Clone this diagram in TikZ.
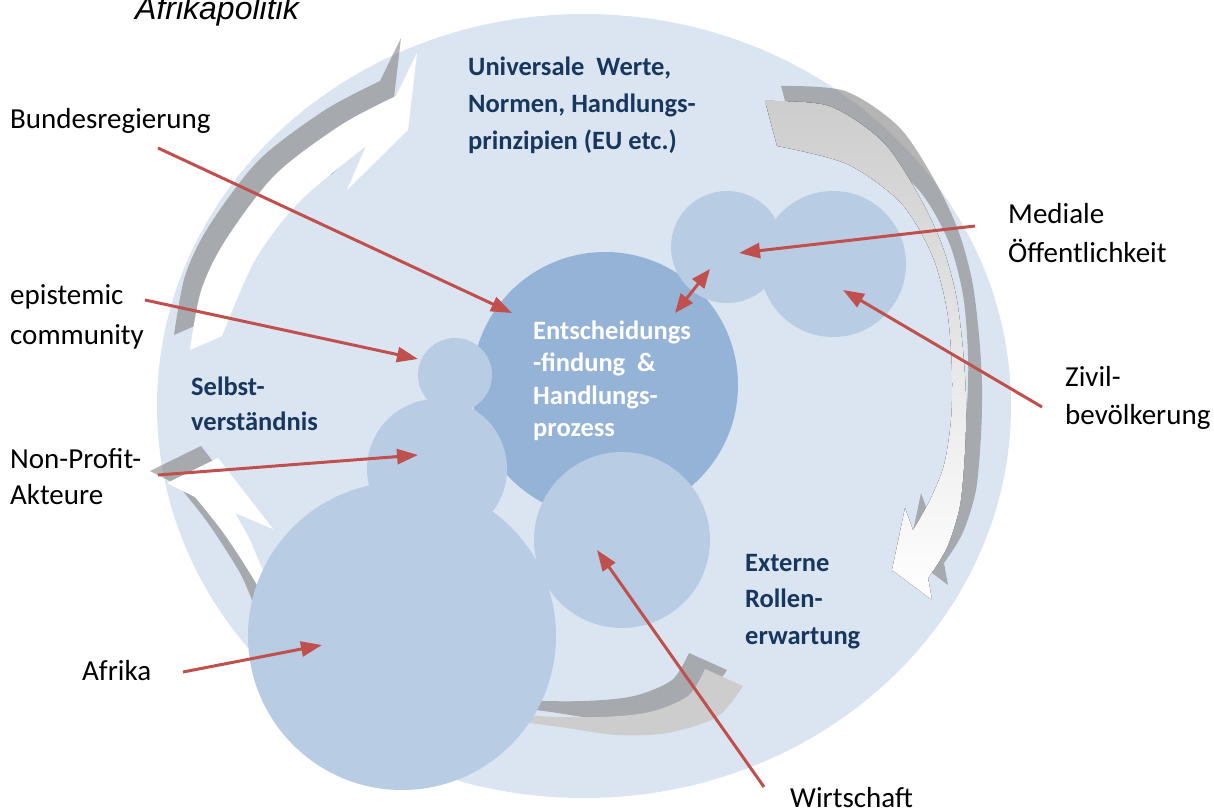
\documentclass[tikz,border=0pt]{standalone}
\usepackage{fontspec}
\setmainfont{Carlito}
\newfontfamily\titlefont{Liberation Sans}
\usetikzlibrary{arrows.meta}
\definecolor{bgblue}{RGB}{219,229,241}
\definecolor{midblue}{RGB}{184,204,228}
\definecolor{coreblue}{RGB}{149,179,215}
\definecolor{navy}{RGB}{23,55,94}
\definecolor{redline}{RGB}{192,80,77}
\definecolor{tailgray}{RGB}{205,205,205}
\newcommand{\mylines}[1]{\begin{tabular}[t]{@{}l@{}}#1\end{tabular}}
\newcommand{\TLarrow}[1]{\fill[#1] (222,336) -- plot[smooth] coordinates {(222,336) (255,260) (300,201) (366,146)} -- (347,190) -- (408,130) -- (417,53) -- (396,96) -- plot[smooth] coordinates {(396,96) (341,125) (275,175) (225,241) (201,291) (190,350)} -- cycle;}
\newcommand{\Rarrow}[1]{\fill[#1] (765,101) -- plot[smooth] coordinates {(765,101) (829,106) (883,142) (919,196) (942,245) (956,295) (963,350) (966,400) (965,450) (960,505) (948,545) (935,568)} -- (928,578) -- (932,600) -- (892,570) -- (905,508) -- (913,530) -- plot[smooth] coordinates {(913,530) (930,500) (944,465) (951,420) (952,370) (947,310) (932,255) (901,203) (847,164) (777,146)} -- cycle;}
\newcommand{\BLarrow}[1]{\fill[#1] (218,458) -- (273,529) -- (235,513) -- plot[smooth] coordinates {(235,513) (250,540) (263,570) (285,605) (315,640)} -- (300,662) -- plot[smooth] coordinates {(300,662) (275,625) (257,585) (225,535) (195,497)} -- (167,483) -- cycle;}
\newcommand{\Btail}[1]{\fill[#1] (705,669) -- (743,686) -- plot[smooth] coordinates {(743,686) (717,717) (667,733) (617,735) (567,728) (530,723) (480,716)} -- (480,708) -- plot[smooth] coordinates {(480,708) (537,716) (600,717) (650,712) (688,696) (705,669)} -- cycle;}

\begin{document}
\begin{tikzpicture}[x=1pt,y=-1pt,
  bubble/.style={circle,fill=midblue,inner sep=0pt,minimum size=#1},
  corebubble/.style={circle,fill=coreblue,inner sep=0pt,minimum size=#1},
  shadowfill/.style={fill=black!50,fill opacity=0.58},
  lbl/.style={anchor=base west,inner sep=0pt,text=black,font=\fontsize{29}{#1}\selectfont},
  lbl/.default=39,
  theme/.style={anchor=base west,inner sep=0pt,text=navy,font=\bfseries\fontsize{26.5}{#1}\selectfont},
  theme/.default=36.5,
  link/.style={draw=redline,line width=3pt,-{Triangle[length=21pt,width=15pt]}},
  dlink/.style={draw=redline,line width=3pt,{Triangle[length=19pt,width=15pt]}-{Triangle[length=19pt,width=15pt]}}
]
\useasboundingbox (0,0) rectangle (1214,811);

% background disc
\fill[bgblue] (584,406) ellipse [x radius=427, y radius=392];

% cycle arrows: shadows
\begin{scope}[shift={(-16,-15)}]\TLarrow{shadowfill}\end{scope}
\begin{scope}[shift={(16,-15)}]\Rarrow{shadowfill}\end{scope}
\begin{scope}[shift={(-17,-12)}]\BLarrow{shadowfill}\end{scope}
\begin{scope}[shift={(-16,-16)}]\Btail{shadowfill}\end{scope}
% cycle arrows: fronts
\TLarrow{white}
\Rarrow{top color=tailgray,middle color=white,bottom color=white}
\BLarrow{white}
\Btail{tailgray}

% circles
\node[corebubble=266pt] (entsch) at (605,385) {};
\node[bubble=308pt] (afrika) at (402,636) {};
\node[bubble=140pt] (nonprofit) at (437,469) {};
\node[bubble=74pt] (epist) at (455,375) {};
\node[bubble=176pt] (wirt) at (622,540) {};
\node[bubble=112pt] (medial) at (727,247) {};
\node[bubble=146pt] (zivil) at (833,264) {};

% title
\node[anchor=base west,inner sep=0pt,font=\titlefont\itshape\fontsize{32}{38}\selectfont] (title) at (135,19) {Afrikapolitik};

% theme texts
\node[theme=37] (univ) at (468,75) {\mylines{Universale~ Werte,\\Normen, Handlungs-\\prinzipien (EU etc.)}};
\node[theme=35] (selbst) at (191,395) {\mylines{Selbst-\\verständnis}};
\node[theme] (extern) at (745,571) {\mylines{Externe\\Rollen-\\erwartung}};
\node[theme=32.5,text=white] (entschtext) at (533,339) {\mylines{Entscheidungs\\-findung~ \&\\Handlungs-\\prozess}};

% labels
\node[lbl] (bund) at (10,128) {Bundesregierung};
\node[lbl=40] (epi) at (10,304) {\mylines{epistemic\\community}};
\node[lbl=36] (npo) at (10,468) {\mylines{Non-Profit-\\Akteure}};
\node[lbl] (afr) at (82,680) {Afrika};
\node[lbl] (med) at (1008,223) {\mylines{Mediale\\Öffentlichkeit}};
\node[lbl=38] (ziv) at (1065,386) {\mylines{Zivil-\\bevölkerung}};
\node[lbl] (wir) at (790,807) {Wirtschaft};

% connector ends
\coordinate (bund-a) at (158,148);   \coordinate (bund-b) at (512,313);
\coordinate (epi-a) at (145,300);    \coordinate (epi-b) at (418,359);
\coordinate (npo-a) at (158,475);    \coordinate (npo-b) at (418,455);
\coordinate (afr-a) at (183,672);    \coordinate (afr-b) at (322,645);
\coordinate (wir-a) at (764,787);    \coordinate (wir-b) at (597,550);
\coordinate (med-a) at (975,226);    \coordinate (med-b) at (739,253);
\coordinate (ziv-a) at (1042,407);   \coordinate (ziv-b) at (843,290);
\coordinate (dbl-a) at (675,313);    \coordinate (dbl-b) at (710,269);

\draw[link] (bund-a) -- (bund-b);
\draw[link] (epi-a) -- (epi-b);
\draw[link] (npo-a) -- (npo-b);
\draw[link] (afr-a) -- (afr-b);
\draw[link] (wir-a) -- (wir-b);
\draw[link] (med-a) -- (med-b);
\draw[link] (ziv-a) -- (ziv-b);
\draw[dlink] (dbl-a) -- (dbl-b);
\end{tikzpicture}
\end{document}
